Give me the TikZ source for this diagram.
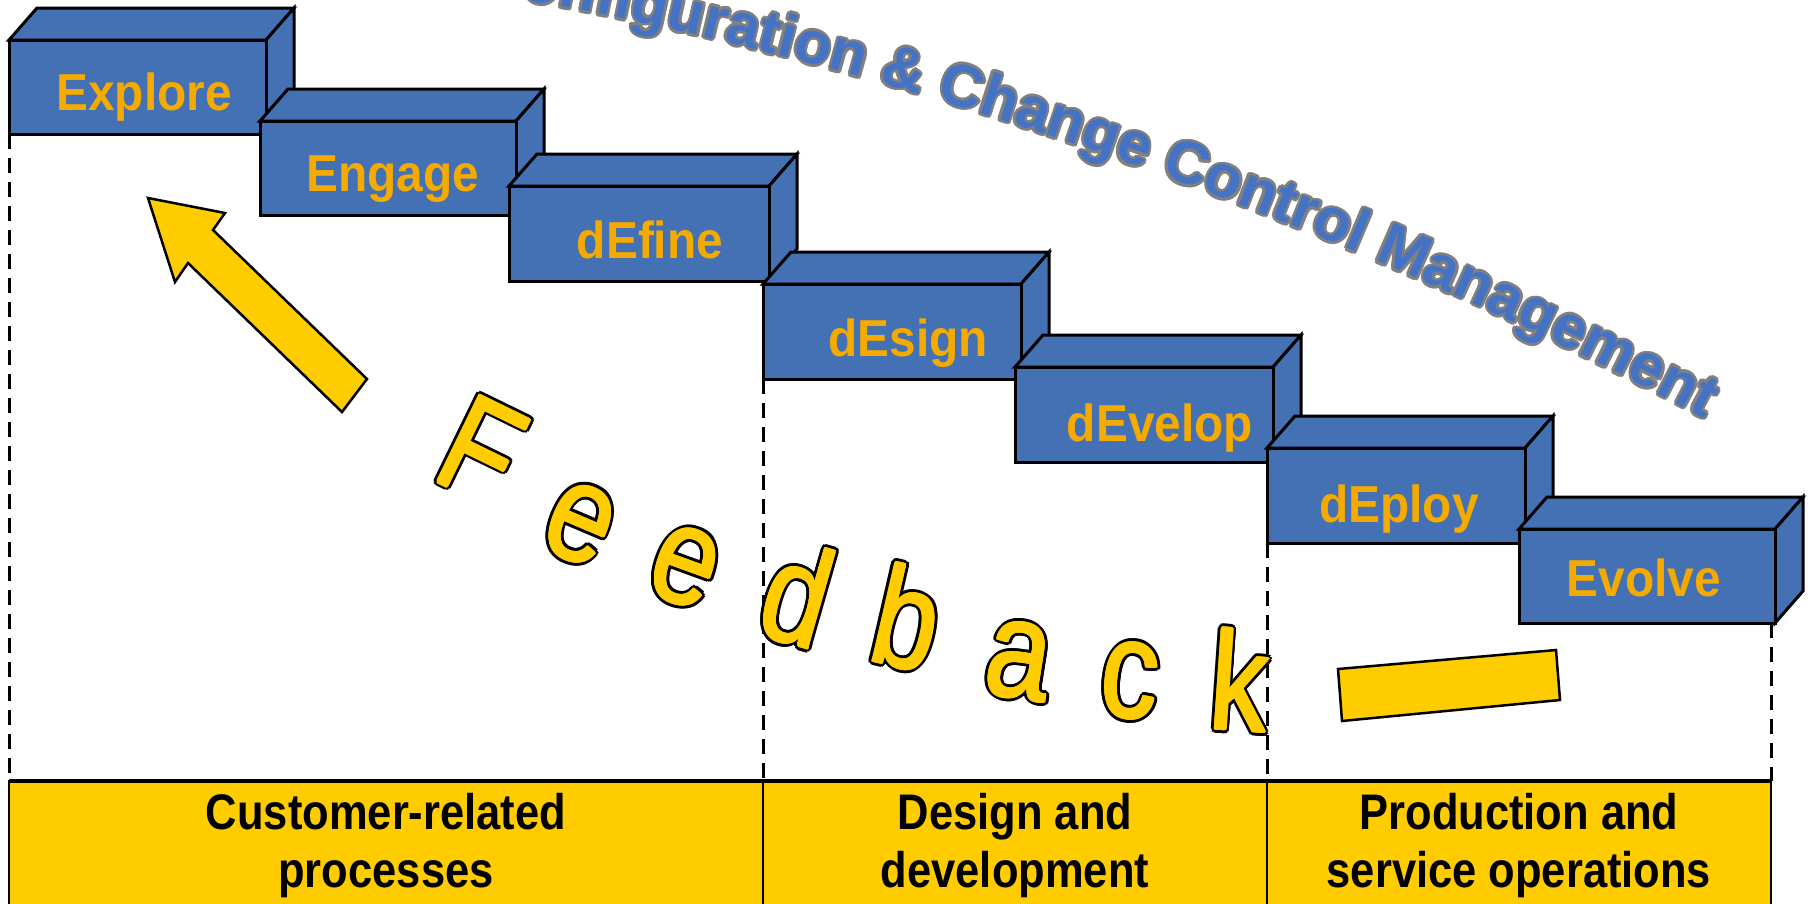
\documentclass[tikz,border=0pt]{standalone}
\usepackage{fontspec}
\setmainfont{Liberation Sans}
\newfontfamily\boxfont{Liberation Sans}[FakeStretch=0.92]
\newfontfamily\barfont{Liberation Sans}[FakeStretch=0.87]
\newfontfamily\fbfont{Liberation Sans}[FakeStretch=0.82]
\usetikzlibrary{decorations.text}
\definecolor{boxblue}{RGB}{67,113,180}
\definecolor{txtorange}{RGB}{245,170,0}
\definecolor{fbyellow}{RGB}{255,204,0}
\definecolor{cfgblue}{RGB}{68,114,196}
\definecolor{cfggray}{RGB}{128,128,128}
\newcommand\cfgfont{\bfseries\fontsize{60}{60}\selectfont}
\newcommand\cfgtext{|\cfgfont|Configuration {\&} Change Control Management}
\tikzset{
  boxface/.style={draw=black, fill=boxblue, line width=3pt, line join=miter},
  frontbox/.style={boxface, rectangle, anchor=north west, inner sep=0pt, outer sep=0pt},
  boxlabel/.style={font=\boxfont\bfseries\fontsize{52}{52}\selectfont, text=txtorange, anchor=base, inner sep=0pt},
  dashline/.style={draw=black, line width=3pt, dash pattern=on 15pt off 9pt},
  cell/.style={draw=black, fill=fbyellow, line width=2pt, rectangle, anchor=north west, inner sep=0pt, outer sep=0pt, minimum height=130pt, align=center, font=\barfont\bfseries\fontsize{50}{58}\selectfont},
  yelshape/.style={draw=black, fill=fbyellow, line width=2.5pt, line join=miter},
  fbletter/.style={font=\fbfont\fontsize{140}{140}\selectfont, inner sep=0pt, anchor=center},
}
\newcommand\fbl[5]{%
  \foreach \a in {0,22.5,...,337.5}{%
    \node[fbletter, text=black, rotate=#4, xshift={4pt*cos(\a)}, yshift={4pt*sin(\a)}] at (#2,#3) {#5};}
  \foreach \a in {0,45,...,315}{%
    \node[fbletter, text=fbyellow, rotate=#4, xshift={1.2pt*cos(\a)}, yshift={1.2pt*sin(\a)}] at (#2,#3) {#5};}
  \node[fbletter, text=fbyellow, rotate=#4] (#1) at (#2,#3) {#5};}
\begin{document}
\begin{tikzpicture}[x=1pt, y=-1pt]
\useasboundingbox (0,0) rectangle (1811,903);
\fill[white] (0,0) rectangle (1811,903);

% curved title
\foreach \a in {0,30,...,330}{
  \path[shift={(\a:2.6pt)}, decorate, decoration={text along path, text align=right, text color=cfggray, text/.expand once=\cfgtext}]
    (462,-10) .. controls (874,52) and (1330,218) .. (1704,418);
}
\path[decorate, decoration={text along path, text align=right, text color=cfgblue, text/.expand once=\cfgtext}]
    (462,-10) .. controls (874,52) and (1330,218) .. (1704,418);

% stair boxes
\foreach \n/\l/\t/\r/\b/\tx/\ty/\txt in {explore/9/40/266/134/144/110/Explore, engage/260/121/516/215/393/191/Engage, define/509/186/769/281/650/258/dEfine, design/763/284/1021/379/908/356/dEsign, develop/1015/367/1273/462/1160/441/dEvelop, deploy/1267/448/1525/543/1399/522/dEploy, evolve/1519/529/1775/623/1644/596/Evolve}{
  \pgfmathsetmacro\w{\r-\l}
  \pgfmathsetmacro\h{\b-\t}
  \draw[boxface] (\l,\t) -- ++(28,-32) -- ++(\w,0) -- (\r,\t) -- cycle;
  \draw[boxface] (\r,\t) -- ++(28,-32) -- ++(0,\h) -- (\r,\b) -- cycle;
  \node[frontbox, minimum width=\w pt, minimum height=\h pt] (\n) at (\l,\t) {};
  \node[boxlabel] (\n-label) at (\tx,\ty) {\txt};
}

% bottom bar
\node[cell, minimum width=754pt] (cust) at (9,781) {Customer-related\\processes};
\node[cell, minimum width=504pt] (dd) at (763,781) {Design and\\development};
\node[cell, minimum width=504pt] (ps) at (1267,781) {Production and\\service operations};
\draw[line width=3.5pt] (cust.north west) -- (ps.north east);

% dashed guides
\draw[dashline] (explore.south west) -- (explore.south west |- cust.north);
\draw[dashline] (design.south west) -- (design.south west |- dd.north);
\draw[dashline] (deploy.south west) -- (deploy.south west |- ps.north);
\draw[dashline] ([xshift=-4pt]evolve.south east) -- ([xshift=-4pt]evolve.south east |- ps.north);

% feedback arrow
\draw[yelshape] (148,198) -- (225,213) -- (213,230) -- (367,379) -- (342,412) -- (188,263) -- (175,282) -- cycle;

% Feedback letters
\fbl{fF}{482}{450}{-26}{F}
\fbl{fe1}{580}{524}{-23}{e}
\fbl{fe2}{685}{567}{-20}{e}
\fbl{fd}{798}{594}{-16}{d}
\fbl{fb}{908}{618}{-13}{b}
\fbl{fa}{1019}{661}{-9}{a}
\fbl{fc}{1130}{681}{-6}{c}
\fbl{fk}{1240}{680}{-4}{k}
\draw[yelshape] (1338,669) -- (1556,650) -- (1560,700) -- (1342,721) -- cycle;
\end{tikzpicture}
\end{document}
